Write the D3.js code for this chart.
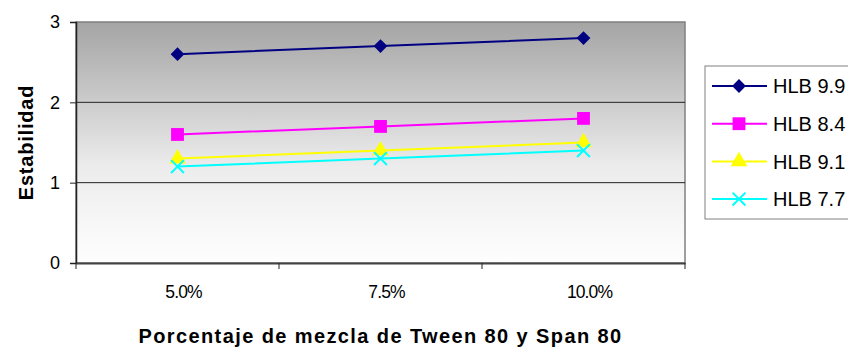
<!DOCTYPE html>
<html>
<head>
<meta charset="utf-8">
<script src="https://cdn.jsdelivr.net/npm/d3@7"></script>
<style>
  body { margin: 0; background: #fff; }
  text { font-family: Arial, "Liberation Sans", sans-serif; }
</style>
</head>
<body>
<div id="chart"></div>
<script>
// data
const categories = ["5.0%", "7.5%", "10.0%"];
const seriesNames = ["HLB 9.9", "HLB 8.4", "HLB 9.1", "HLB 7.7"];
const hlb99 = [2.6, 2.7, 2.8];
const hlb84 = [1.6, 1.7, 1.8];
const hlb91 = [1.3, 1.4, 1.5];
const hlb77 = [1.2, 1.3, 1.4];
const yTicks = [0, 1, 2, 3];

const seriesValues = [hlb99, hlb84, hlb91, hlb77];
const colors = ["#000080", "#ff00ff", "#ffff00", "#00ffff"];
const symbols = ["diamond", "square", "triangle", "cross"];

const width = 848, height = 347;
const margin = {top: 22, right: 163, bottom: 84, left: 76};
const innerW = width - margin.left - margin.right;
const innerH = height - margin.top - margin.bottom;

const svg = d3.select("#chart").append("svg")
    .attr("width", width)
    .attr("height", height);

// gradient for plot background
const defs = svg.append("defs");
const grad = defs.append("linearGradient")
    .attr("id", "bgGrad")
    .attr("x1", 0).attr("y1", 0).attr("x2", 0).attr("y2", 1);
grad.append("stop").attr("offset", "0%").attr("stop-color", "#a4a4a4");
grad.append("stop").attr("offset", "60%").attr("stop-color", "#ececec");
grad.append("stop").attr("offset", "100%").attr("stop-color", "#fefefe");

const g = svg.append("g")
    .attr("transform", `translate(${margin.left},${margin.top})`);

// scales
const x = d3.scaleBand()
    .domain(categories)
    .range([0, innerW]);

const y = d3.scaleLinear()
    .domain([0, 3])
    .range([innerH, 0]);

// plot area
g.append("rect")
    .attr("width", innerW)
    .attr("height", innerH)
    .attr("fill", "url(#bgGrad)")
    .attr("stroke", "#808080")
    .attr("stroke-width", 1.5);

// gridlines
g.selectAll(".grid")
    .data(yTicks.filter(d => d > 0 && d < 3))
    .enter().append("line")
    .attr("class", "grid")
    .attr("x1", 0)
    .attr("x2", innerW)
    .attr("y1", d => y(d))
    .attr("y2", d => y(d))
    .attr("stroke", "#222")
    .attr("stroke-width", 1);

// y axis
const yAxis = d3.axisLeft(y)
    .tickValues(yTicks)
    .tickFormat(d3.format("d"))
    .tickSize(6)
    .tickPadding(10);

const yAxisGroup = g.append("g").call(yAxis);
yAxisGroup.select(".domain").attr("stroke", "#222").attr("stroke-width", 1.5);
yAxisGroup.selectAll("line").attr("stroke", "#222");
yAxisGroup.selectAll("text")
    .attr("font-size", "18px")
    .attr("fill", "#000");

// x axis, ticks between categories
const xAxis = d3.axisBottom(x)
    .tickSize(0)
    .tickPadding(23);

const xAxisGroup = g.append("g")
    .attr("transform", `translate(0,${innerH})`)
    .call(xAxis);
xAxisGroup.select(".domain").attr("stroke", "#444").attr("stroke-width", 2);
xAxisGroup.selectAll("text")
    .attr("font-size", "17.5px")
    .attr("letter-spacing", "-0.9px")
    .attr("dx", 6)
    .attr("fill", "#000");

// separator ticks between categories
const boundaries = [0].concat(categories.map(c => x(c) + x.bandwidth()));
xAxisGroup.selectAll(".sep")
    .data(boundaries)
    .enter().append("line")
    .attr("class", "sep")
    .attr("x1", d => d)
    .attr("x2", d => d)
    .attr("y1", 0)
    .attr("y2", 6)
    .attr("stroke", "#222");

// lines
const line = d3.line()
    .x((d, i) => x(categories[i]) + x.bandwidth() / 2)
    .y(d => y(d));

const symbolFor = (name, size) => {
    if (name === "diamond") return d3.symbol().type(d3.symbolDiamond2).size(size * 1.1)();
    if (name === "square") return d3.symbol().type(d3.symbolSquare).size(size * 1.5)();
    if (name === "triangle") return d3.symbol().type(d3.symbolTriangle).size(size * 1.1)();
    return d3.symbol().type(d3.symbolTimes).size(size)();
};

seriesValues.forEach((vals, s) => {
    g.append("path")
        .datum(vals)
        .attr("fill", "none")
        .attr("stroke", colors[s])
        .attr("stroke-width", 2)
        .attr("d", line);

    g.selectAll(".pt" + s)
        .data(vals)
        .enter().append("path")
        .attr("class", "pt" + s)
        .attr("transform", (d, i) => `translate(${x(categories[i]) + x.bandwidth() / 2},${y(d)})`)
        .attr("d", symbolFor(symbols[s], 110))
        .attr("fill", symbols[s] === "cross" ? "none" : colors[s])
        .attr("stroke", colors[s])
        .attr("stroke-width", symbols[s] === "cross" ? 2 : 0);
});

// axis titles
svg.append("text")
    .attr("transform", `translate(33,${margin.top + innerH / 2}) rotate(-90)`)
    .attr("text-anchor", "middle")
    .attr("font-size", "20px")
    .attr("font-weight", "bold")
    .attr("letter-spacing", "0.8px")
    .text("Estabilidad");

svg.append("text")
    .attr("x", margin.left + innerW / 2)
    .attr("y", 343)
    .attr("text-anchor", "middle")
    .attr("font-size", "20px")
    .attr("font-weight", "bold")
    .attr("letter-spacing", "1.4px")
    .text("Porcentaje de mezcla de Tween 80 y Span 80");

// legend
const legend = svg.append("g")
    .attr("transform", "translate(705,66)");

legend.append("rect")
    .attr("width", 160)
    .attr("height", 153)
    .attr("fill", "#fff")
    .attr("stroke", "#808080")
    .attr("stroke-width", 1);

const items = legend.selectAll(".item")
    .data(seriesNames)
    .enter().append("g")
    .attr("class", "item")
    .attr("transform", (d, i) => `translate(0,${20 + i * 37.7})`);

items.append("line")
    .attr("x1", 7).attr("x2", 62)
    .attr("stroke", (d, i) => colors[i])
    .attr("stroke-width", 2);

items.append("path")
    .attr("transform", "translate(34,0)")
    .attr("d", (d, i) => symbolFor(symbols[i], 110))
    .attr("fill", (d, i) => symbols[i] === "cross" ? "none" : colors[i])
    .attr("stroke", (d, i) => colors[i])
    .attr("stroke-width", (d, i) => symbols[i] === "cross" ? 2 : 0);

items.append("text")
    .attr("x", 68)
    .attr("dy", "0.36em")
    .attr("font-size", "20px")
    .text(d => d);
</script>
</body>
</html>
